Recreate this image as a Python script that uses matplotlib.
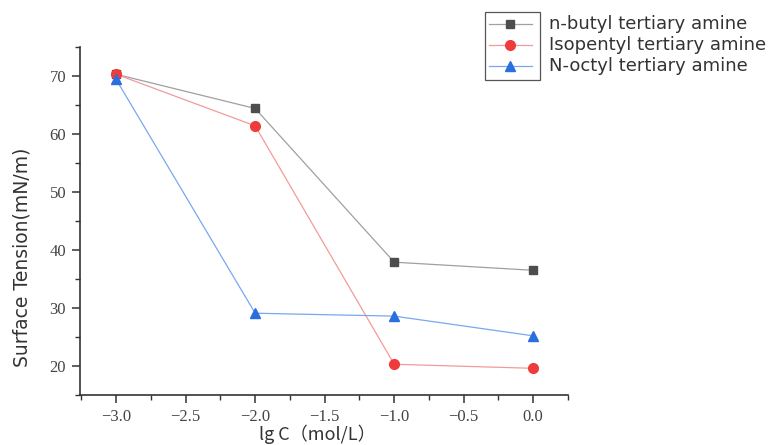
import matplotlib
matplotlib.use("Agg")
import matplotlib.pyplot as plt
from matplotlib.lines import Line2D
from matplotlib.patches import Rectangle
from matplotlib.ticker import MultipleLocator

x = [-3.0, -2.0, -1.0, 0.0]
butyl = [70.3, 64.4, 37.9, 36.5]
isopentyl = [70.3, 61.4, 20.3, 19.6]
octyl = [69.4, 29.1, 28.6, 25.2]
labels = ["n-butyl tertiary amine", "Isopentyl tertiary amine", "N-octyl tertiary amine"]
series = [butyl, isopentyl, octyl]
line_colors = ["#a0a0a0", "#f39a9a", "#7aa8ee"]
marker_colors = ["#4d4d4d", "#ee3b3b", "#2a6fe0"]
markers = ["s", "o", "^"]

W, H = 769, 445
fig = plt.figure(figsize=(W/100, H/100), dpi=100)
ax = fig.add_axes([80/W, 1-395/H, (568-80)/W, (395-47)/H])

for ys, lc, mc, m in zip(series, line_colors, marker_colors, markers):
    ax.plot(x, ys, color=lc, lw=0.9, zorder=2)
    ax.plot(x, ys, ls="none", marker=m, color=mc, ms=7 if m != "s" else 6.3, zorder=3)

ax.set_xlim(-3.26, 0.25)
ax.set_ylim(15, 75)
ax.xaxis.set_major_locator(MultipleLocator(0.5))
ax.xaxis.set_minor_locator(MultipleLocator(0.25))
ax.yaxis.set_major_locator(MultipleLocator(10))
ax.yaxis.set_minor_locator(MultipleLocator(5))
ax.set_yticks([20, 30, 40, 50, 60, 70])
for s in ["top", "right"]:
    ax.spines[s].set_visible(False)
for s in ["left", "bottom"]:
    ax.spines[s].set_color("#333333")
    ax.spines[s].set_linewidth(1.2)
ax.tick_params(which="major", direction="out", length=6, width=1.1, color="#333333", pad=4)
ax.tick_params(which="minor", direction="out", length=3.5, width=1.0, color="#333333")
ax.set_xticklabels([f"{v:.1f}".replace("-", "\u2212") for v in ax.get_xticks()])
for lab in ax.get_xticklabels() + ax.get_yticklabels():
    lab.set_family("Liberation Serif")
    lab.set_fontsize(12)
    lab.set_color("#444444")

ax.set_xlabel("lg C（mol/L）", family=["Noto Sans CJK SC", "DejaVu Sans"], fontsize=13,
              color="#333333", fontweight="medium")
ax.xaxis.set_label_coords((317-80)/(568-80), -(434-395)/(395-47))
ax.xaxis.label.set_va("center")
ax.set_ylabel("Surface Tension(mN/m)", family="DejaVu Sans", fontsize=13.5,
              color="#333333")
ax.yaxis.set_label_coords(-(80-22)/(568-80), (395-257)/(395-47))
ax.yaxis.label.set_va("center")

# legend (Origin-style: frame around handles only)
fig.add_artist(Rectangle((485/W, 1-80/H), 55/W, 68/H, transform=fig.transFigure,
                         fill=False, ec="#555555", lw=0.9))
rows = [24, 45, 66]
for yy, lab, lc, mc, m in zip(rows, labels, line_colors, marker_colors, markers):
    fig.add_artist(Line2D([489/W, 532/W], [1-yy/H]*2, transform=fig.transFigure,
                          color=lc, lw=0.9))
    fig.add_artist(Line2D([510/W], [1-yy/H], transform=fig.transFigure, marker=m,
                          color=mc, ms=7 if m != "s" else 6, ls="none"))
    fig.text(549/W, 1-yy/H, lab, fontsize=13, family="DejaVu Sans", color="#333333",
             va="center", ha="left")

fig.savefig("out.png", dpi=100)
